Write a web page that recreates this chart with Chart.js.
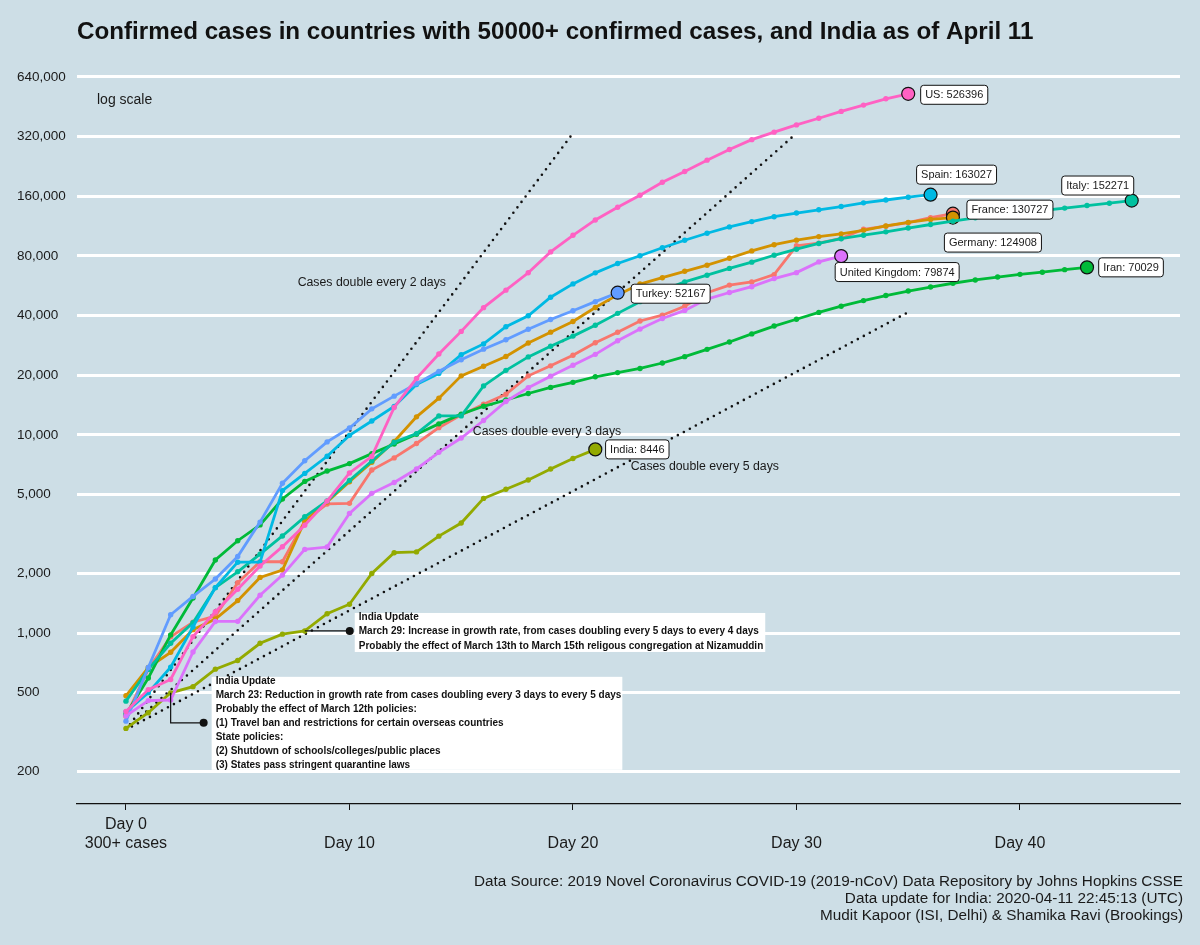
<!DOCTYPE html>
<html><head><meta charset="utf-8">
<script src="https://cdn.jsdelivr.net/npm/chart.js@4.4.1/dist/chart.umd.min.js"></script>
<style>html,body{margin:0;padding:0;background:#cddee6;}#wrap{width:1200px;height:945px;}</style>
</head><body><div id="wrap"><canvas id="c" width="1200" height="945"></canvas></div>
<script>
// ---- data ----
const countries = ['France','Germany','India','Iran','Italy','Spain','Turkey','United Kingdom','US'];
const colors    = ['#F8766D','#D39200','#93AA00','#00BA38','#00C19F','#00B9E3','#619CFF','#DB72FB','#FF61C3'];
const france  = [380,656,957,1134,1217,1792,2289,2289,3672,4480,4513,6650,7652,9043,10871,12612,14282,16018,19856,22304,25233,29155,32964,37575,40174,44550,52128,56989,59105,64338,89953,92839,98010,109069,112950,117749,124869,130727];
const germany = [482,670,799,1040,1176,1457,1908,2078,3675,4585,5795,7272,9257,12327,15320,19848,22213,24873,29056,32986,37323,43938,50871,57695,62095,66885,71808,77872,84794,91159,96092,100123,103374,107663,113296,118181,122171,124908];
const india   = [330,396,499,536,657,727,887,987,1024,1251,1397,1998,2543,2567,3082,3588,4778,5311,5916,6725,7598,8446];
const iran    = [388,593,978,1501,2336,2922,3513,4747,5823,6566,7161,8042,9000,10075,11364,12729,13938,14991,16169,17361,18407,19644,20610,21638,23049,24811,27017,29406,32332,35408,38309,41495,44605,47593,50468,53183,55743,58226,60500,62589,64586,66220,68192,70029];
const italy   = [453,655,888,1128,1694,2036,2502,3089,3858,4636,5883,7375,9172,10149,12462,12462,17660,21157,24747,27980,31506,35713,41035,47021,53578,59138,63927,69176,74386,80589,86498,92472,97689,101739,105792,110574,115242,119827,124632,128948,132547,135586,139422,143626,147577,152271];
const spain   = [400,500,673,1073,1695,2277,2277,5232,6391,7798,9942,11748,13910,17963,20410,25374,28768,35136,39885,49515,57786,65719,73235,80110,87956,95923,104118,112065,119199,126168,131646,136675,141942,148220,153222,158273,163027];
const turkey  = [359,670,1236,1529,1872,2433,3629,5698,7402,9217,10827,13531,15679,18135,20921,23934,27069,30217,34109,38226,42282,47029,52167];
const uk      = [382,456,459,802,1144,1145,1551,1960,2642,2716,4014,5067,5745,6726,8164,9640,11812,14745,17312,19780,22453,25481,29865,34173,38689,42477,48436,52279,55949,61474,65872,74605,79874];
const us      = [402,518,583,959,1281,1663,2179,2727,3499,4632,6421,7783,13747,19273,25600,33276,43847,53740,65778,83836,101657,121478,140886,161807,188172,213372,243453,275586,308850,337072,366667,396223,429052,461437,496535,526396];
const seriesValues = [france,germany,india,iran,italy,spain,turkey,uk,us];

// reference doubling lines: [day, value] end points
const doubling2 = [[0,325],[20,332800]];
const doubling3 = [[0,325],[30,332800]];
const doubling5 = [[0,325],[35,41600]];
const doublingNames = ['Cases double every 2 days','Cases double every 3 days','Cases double every 5 days'];

const xTicks = [0,10,20,30,40];
const xTickLabels = [['Day 0','300+ cases'],['','Day 10'],['','Day 20'],['','Day 30'],['','Day 40']];
const yTicks = [200,500,1000,2000,5000,10000,20000,40000,80000,160000,320000,640000];

const titleText = 'Confirmed cases in countries with 50000+ confirmed cases, and India as of April 11';
const captionLines = ['Data Source: 2019 Novel Coronavirus COVID-19 (2019-nCoV) Data Repository by Johns Hopkins CSSE',
  'Data update for India: 2020-04-11 22:45:13 (UTC)',
  'Mudit Kapoor (ISI, Delhi) & Shamika Ravi (Brookings)'];
const note29 = ['India Update','March 29: Increase in growth rate, from cases doubling every 5 days to every 4 days','Probably the effect of March 13th to March 15th religous congregation at Nizamuddin'];
const note23 = ['India Update','March 23: Reduction in growth rate from cases doubling every 3 days to every 5 days','Probably the effect of March 12th policies:','(1) Travel ban and restrictions for certain overseas countries','State policies:','(2) Shutdown of schools/colleges/public places','(3) States pass stringent quarantine laws'];

// ---- styling (positions of text annotations) ----
const FONT = "'Liberation Sans', Arial, sans-serif";
const BG = '#cddee6';
const endLabelOffsets = {France:[57,-4],Germany:[40,25],India:[42,0],Iran:[44,0],Italy:[-34,-15],Spain:[26,-20],Turkey:[53,1],'United Kingdom':[56,16],US:[46,1]};
const guideLabelPos = [[11.0,58600],[18.84,10400],[25.9,6880]];

const datasets = [];
countries.forEach((name,i)=>{
  const vals = seriesValues[i];
  const last = vals.length-1;
  datasets.push({
    label:name, data: vals.map((v,d)=>({x:d,y:v})),
    borderColor:colors[i], backgroundColor:colors[i], borderWidth:2.8,
    pointBackgroundColor:colors[i],
    pointRadius: c=> c.dataIndex===last?6.5:2.7,
    pointBorderWidth: c=> c.dataIndex===last?1.2:0,
    pointBorderColor: c=> c.dataIndex===last?'#111':colors[i],
    order: countries.length - i, tension:0
  });
});
[doubling2,doubling3,doubling5].forEach((ln,k)=>{
  datasets.push({label:doublingNames[k], data: ln.map(p=>({x:p[0],y:p[1]})),
    borderColor:'#111', borderWidth:2.6, borderDash:[0,6.8], borderCapStyle:'round',
    pointRadius:0, order:50});
});

const bgPlugin = {id:'bg', beforeDraw(chart){const c=chart.ctx;c.save();c.fillStyle=BG;c.fillRect(0,0,chart.width,chart.height);c.restore();}};

function roundRect(c,x,y,w,h,r){c.beginPath();c.moveTo(x+r,y);c.lineTo(x+w-r,y);c.quadraticCurveTo(x+w,y,x+w,y+r);c.lineTo(x+w,y+h-r);c.quadraticCurveTo(x+w,y+h,x+w-r,y+h);c.lineTo(x+r,y+h);c.quadraticCurveTo(x,y+h,x,y+h-r);c.lineTo(x,y+r);c.quadraticCurveTo(x,y,x+r,y);c.closePath();}

const annoPlugin = {id:'anno',
  afterDatasetsDraw(chart){
    const c = chart.ctx, xs = chart.scales.x, ys = chart.scales.y;
    c.save();
    // guide labels
    c.fillStyle='#1a1a1a'; c.font='12.3px '+FONT; c.textAlign='center'; c.textBaseline='middle';
    guideLabelPos.forEach((p,k)=>c.fillText(doublingNames[k], xs.getPixelForValue(p[0]), ys.getPixelForValue(p[1])));
    // end labels
    c.font='11px '+FONT;
    countries.forEach((name,i)=>{
      const meta = chart.getDatasetMeta(i); const pt = meta.data[meta.data.length-1];
      const txt = name+': '+seriesValues[i][seriesValues[i].length-1];
      const w = c.measureText(txt).width+9, h=19;
      const cx = pt.x+endLabelOffsets[name][0], cy = pt.y+endLabelOffsets[name][1];
      roundRect(c,cx-w/2,cy-h/2,w,h,3); c.fillStyle='#fff'; c.fill(); c.lineWidth=1; c.strokeStyle='#111'; c.stroke();
      c.fillStyle='#1a1a1a'; c.textAlign='center'; c.fillText(txt,cx,cy+0.5);
    });
    // India notes
    const im = chart.getDatasetMeta(countries.indexOf('India'));
    const p8 = im.data[8], p2 = im.data[2];
    c.font='bold 10px '+FONT; c.textAlign='left';
    // March 29
    c.strokeStyle='#111'; c.lineWidth=1.2;
    c.beginPath(); c.moveTo(p8.x,p8.y); c.lineTo(p8.x+45,p8.y); c.stroke();
    let w1 = Math.max(...note29.map(t=>c.measureText(t).width))+6;
    c.fillStyle='#fff'; c.fillRect(p8.x+50,p8.y-18,w1,39);
    c.fillStyle='#111'; c.beginPath(); c.arc(p8.x+45,p8.y,4,0,Math.PI*2); c.fill();
    note29.forEach((t,k)=>c.fillText(t,p8.x+54,p8.y-14+k*14.5));
    // March 23
    c.beginPath(); c.moveTo(p2.x,p2.y); c.lineTo(p2.x,p2.y+30); c.lineTo(p2.x+33,p2.y+30); c.stroke();
    let w2 = Math.max(...note23.map(t=>c.measureText(t).width))+5;
    c.fillStyle='#fff'; c.fillRect(p2.x+41,p2.y-16,w2,93);
    c.fillStyle='#111'; c.beginPath(); c.arc(p2.x+33,p2.y+30,4,0,Math.PI*2); c.fill();
    note23.forEach((t,k)=>c.fillText(t,p2.x+45,p2.y-12+k*14));
    c.restore();
  },
  afterDraw(chart){
    const c = chart.ctx, ca = chart.chartArea;
    c.save();
    c.fillStyle='#111'; c.textBaseline='middle'; c.textAlign='left';
    c.font='bold 24.2px '+FONT; c.fillText(titleText, ca.left, 32);
    c.font='14px '+FONT; c.fillStyle='#1a1a1a'; c.fillText('log scale', ca.left+20, 100);
    c.font='15.3px '+FONT; c.textAlign='right';
    captionLines.forEach((t,k)=>c.fillText(t, 1183, 882+k*17));
    c.restore();
  }
};

new Chart(document.getElementById('c'), {
  type:'line',
  data:{datasets},
  options:{
    responsive:false, animation:false, devicePixelRatio:1,
    layout:{padding:{left:17,right:20,top:60,bottom:0}},
    plugins:{legend:{display:false},tooltip:{enabled:false},title:{display:false}},
    scales:{
      x:{type:'linear',min:-2.19,max:47.16,
        afterBuildTicks:s=>{s.ticks=xTicks.map(v=>({value:v}));},
        afterFit:s=>{s.height=141;},
        ticks:{callback:(v,i)=>xTickLabels[i],font:{family:FONT,size:16},color:'#1a1a1a',padding:5,maxRotation:0,autoSkip:false},
        grid:{drawOnChartArea:false,drawTicks:true,tickLength:6,color:'#111',lineWidth:1},
        border:{display:true,color:'#111',width:1.2}},
      y:{type:'logarithmic',min:137.1,max:779500,
        afterBuildTicks:s=>{s.ticks=yTicks.map(v=>({value:v}));},
        afterFit:s=>{s.width=60;},
        ticks:{callback:v=>Number(v).toLocaleString('en-US'),crossAlign:'far',font:{family:FONT,size:13.5},color:'#1a1a1a',padding:8},
        grid:{color:'#ffffff',lineWidth:3,drawTicks:false},
        border:{display:false}}
    }
  },
  plugins:[bgPlugin,annoPlugin]
});
</script></body></html>
